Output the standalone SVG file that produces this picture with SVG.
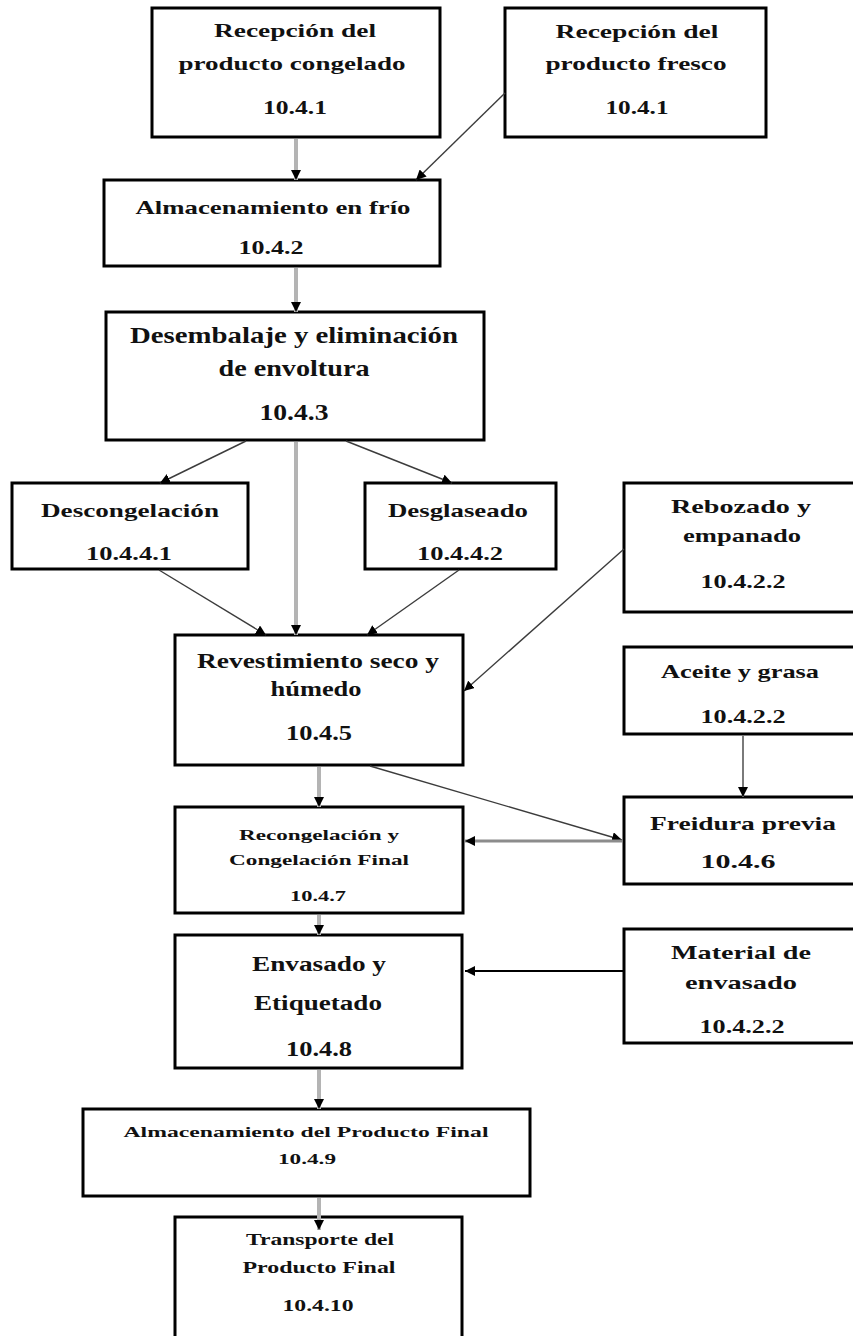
<svg xmlns="http://www.w3.org/2000/svg" width="853" height="1336" viewBox="0 0 853 1336">
<style>
.box{fill:#fff;stroke:#000;stroke-width:3}
.t{font-family:"Liberation Serif","Times New Roman",serif;font-weight:bold;fill:#111;text-anchor:middle}
.s19{font-size:19px}.s23{font-size:23px}.s21{font-size:21px}.s15{font-size:15px}.s16{font-size:16px}.s20{font-size:20px}
.gv{stroke:#b4b4b4;stroke-width:4;fill:none}
.dg{stroke:#3c3c3c;stroke-width:1.4;fill:none}
.md{stroke:#7a7a7a;stroke-width:2;fill:none}
.hz{stroke:#8c8c8c;stroke-width:3;fill:none}
.bk{stroke:#000;stroke-width:2;fill:none}
</style>
<defs>
<marker id="ah" viewBox="0 0 10 10" refX="10" refY="5" markerUnits="userSpaceOnUse" markerWidth="10" markerHeight="10" orient="auto">
<path d="M0,0 L10,5 L0,10 z" fill="#000"/>
</marker>
</defs>
<rect width="853" height="1336" fill="#fff"/>
<g id="n1"><rect class="box" x="152" y="8" width="288" height="129"/>
<text class="t s19" x="295" y="37" textLength="162" lengthAdjust="spacingAndGlyphs">Recepción del</text>
<text class="t s19" x="292" y="70" textLength="227" lengthAdjust="spacingAndGlyphs">producto congelado</text>
<text class="t s19" x="295" y="114" textLength="64" lengthAdjust="spacingAndGlyphs">10.4.1</text></g>
<g id="n2"><rect class="box" x="505" y="8" width="261" height="129"/>
<text class="t s19" x="637" y="38" textLength="163" lengthAdjust="spacingAndGlyphs">Recepción del</text>
<text class="t s19" x="636" y="70" textLength="181" lengthAdjust="spacingAndGlyphs">producto fresco</text>
<text class="t s19" x="637" y="114" textLength="63" lengthAdjust="spacingAndGlyphs">10.4.1</text></g>
<g id="n3"><rect class="box" x="104" y="180" width="336" height="86"/>
<text class="t s19" x="273" y="214" textLength="275" lengthAdjust="spacingAndGlyphs">Almacenamiento en frío</text>
<text class="t s19" x="271" y="254" textLength="65" lengthAdjust="spacingAndGlyphs">10.4.2</text></g>
<g id="n4"><rect class="box" x="106" y="312" width="378" height="128"/>
<text class="t s23" x="294" y="343" textLength="328" lengthAdjust="spacingAndGlyphs">Desembalaje y eliminación</text>
<text class="t s23" x="294" y="376" textLength="151" lengthAdjust="spacingAndGlyphs">de envoltura</text>
<text class="t s23" x="294" y="420" textLength="69" lengthAdjust="spacingAndGlyphs">10.4.3</text></g>
<g id="n5"><rect class="box" x="12" y="483" width="236" height="86"/>
<text class="t s19" x="130" y="517" textLength="178" lengthAdjust="spacingAndGlyphs">Descongelación</text>
<text class="t s19" x="129" y="560" textLength="86" lengthAdjust="spacingAndGlyphs">10.4.4.1</text></g>
<g id="n6"><rect class="box" x="365" y="483" width="191" height="86"/>
<text class="t s19" x="458" y="517" textLength="140" lengthAdjust="spacingAndGlyphs">Desglaseado</text>
<text class="t s19" x="460" y="560" textLength="86" lengthAdjust="spacingAndGlyphs">10.4.4.2</text></g>
<g id="n7"><rect class="box" x="624" y="483" width="240" height="129"/>
<text class="t s19" x="741" y="513" textLength="140" lengthAdjust="spacingAndGlyphs">Rebozado y</text>
<text class="t s19" x="742" y="542" textLength="118" lengthAdjust="spacingAndGlyphs">empanado</text>
<text class="t s19" x="743" y="588" textLength="85" lengthAdjust="spacingAndGlyphs">10.4.2.2</text></g>
<g id="n8"><rect class="box" x="175" y="635" width="288" height="130"/>
<text class="t s21" x="318" y="668" textLength="242" lengthAdjust="spacingAndGlyphs">Revestimiento seco y</text>
<text class="t s21" x="316" y="696" textLength="91" lengthAdjust="spacingAndGlyphs">húmedo</text>
<text class="t s21" x="319" y="740" textLength="66" lengthAdjust="spacingAndGlyphs">10.4.5</text></g>
<g id="n9"><rect class="box" x="624" y="647" width="240" height="87"/>
<text class="t s19" x="740" y="678" textLength="158" lengthAdjust="spacingAndGlyphs">Aceite y grasa</text>
<text class="t s19" x="743" y="723" textLength="85" lengthAdjust="spacingAndGlyphs">10.4.2.2</text></g>
<g id="n10"><rect class="box" x="624" y="797" width="240" height="87"/>
<text class="t s19" x="743" y="830" textLength="186" lengthAdjust="spacingAndGlyphs">Freidura previa</text>
<text class="t s19" x="738" y="868" textLength="75" lengthAdjust="spacingAndGlyphs">10.4.6</text></g>
<g id="n11"><rect class="box" x="175" y="807" width="288" height="106"/>
<text class="t s15" x="319" y="840" textLength="160" lengthAdjust="spacingAndGlyphs">Recongelación y</text>
<text class="t s15" x="319" y="865" textLength="180" lengthAdjust="spacingAndGlyphs">Congelación Final</text>
<text class="t s15" x="318" y="901" textLength="56" lengthAdjust="spacingAndGlyphs">10.4.7</text></g>
<g id="n12"><rect class="box" x="175" y="935" width="287" height="133"/>
<text class="t s20" x="319" y="971" textLength="134" lengthAdjust="spacingAndGlyphs">Envasado y</text>
<text class="t s20" x="318" y="1010" textLength="128" lengthAdjust="spacingAndGlyphs">Etiquetado</text>
<text class="t s20" x="319" y="1056" textLength="66" lengthAdjust="spacingAndGlyphs">10.4.8</text></g>
<g id="n13"><rect class="box" x="624" y="929" width="240" height="114"/>
<text class="t s19" x="741" y="959" textLength="140" lengthAdjust="spacingAndGlyphs">Material de</text>
<text class="t s19" x="741" y="989" textLength="112" lengthAdjust="spacingAndGlyphs">envasado</text>
<text class="t s19" x="742" y="1033" textLength="85" lengthAdjust="spacingAndGlyphs">10.4.2.2</text></g>
<g id="n14"><rect class="box" x="83" y="1109" width="447" height="87"/>
<text class="t s15" x="306" y="1137" textLength="365" lengthAdjust="spacingAndGlyphs">Almacenamiento del Producto Final</text>
<text class="t s15" x="307" y="1164" textLength="58" lengthAdjust="spacingAndGlyphs">10.4.9</text></g>
<g id="n15"><rect class="box" x="175" y="1217" width="287" height="130"/>
<text class="t s16" x="320" y="1245" textLength="148" lengthAdjust="spacingAndGlyphs">Transporte del</text>
<text class="t s16" x="319" y="1273" textLength="153" lengthAdjust="spacingAndGlyphs">Producto Final</text>
<text class="t s16" x="318" y="1311" textLength="71" lengthAdjust="spacingAndGlyphs">10.4.10</text></g>
<g id="connectors">
<line class="gv" x1="296" y1="139" x2="296" y2="180" marker-end="url(#ah)"/>
<line class="dg" x1="505" y1="93" x2="416" y2="180" marker-end="url(#ah)"/>
<line class="gv" x1="296" y1="268" x2="296" y2="312" marker-end="url(#ah)"/>
<line class="dg" x1="246" y1="441" x2="160" y2="483" marker-end="url(#ah)"/>
<line class="dg" x1="346" y1="441" x2="452" y2="483" marker-end="url(#ah)"/>
<line class="gv" x1="296" y1="442" x2="296" y2="635" marker-end="url(#ah)"/>
<line class="dg" x1="159" y1="570" x2="266" y2="635" marker-end="url(#ah)"/>
<line class="dg" x1="459" y1="570" x2="367" y2="635" marker-end="url(#ah)"/>
<line class="dg" x1="624" y1="549" x2="464" y2="691" marker-end="url(#ah)"/>
<line class="gv" x1="319" y1="767" x2="319" y2="807" marker-end="url(#ah)"/>
<line class="dg" x1="370" y1="766" x2="622" y2="840" marker-end="url(#ah)"/>
<line class="md" x1="743" y1="735" x2="743" y2="797" marker-end="url(#ah)"/>
<line class="hz" x1="622" y1="841" x2="465" y2="841" marker-end="url(#ah)"/>
<line class="gv" x1="319" y1="915" x2="319" y2="935" marker-end="url(#ah)"/>
<line class="bk" x1="623" y1="971" x2="465" y2="971" marker-end="url(#ah)"/>
<line class="gv" x1="319" y1="1070" x2="319" y2="1109" marker-end="url(#ah)"/>
<line class="gv" x1="319" y1="1198" x2="319" y2="1230" marker-end="url(#ah)"/>
</g>
</svg>
